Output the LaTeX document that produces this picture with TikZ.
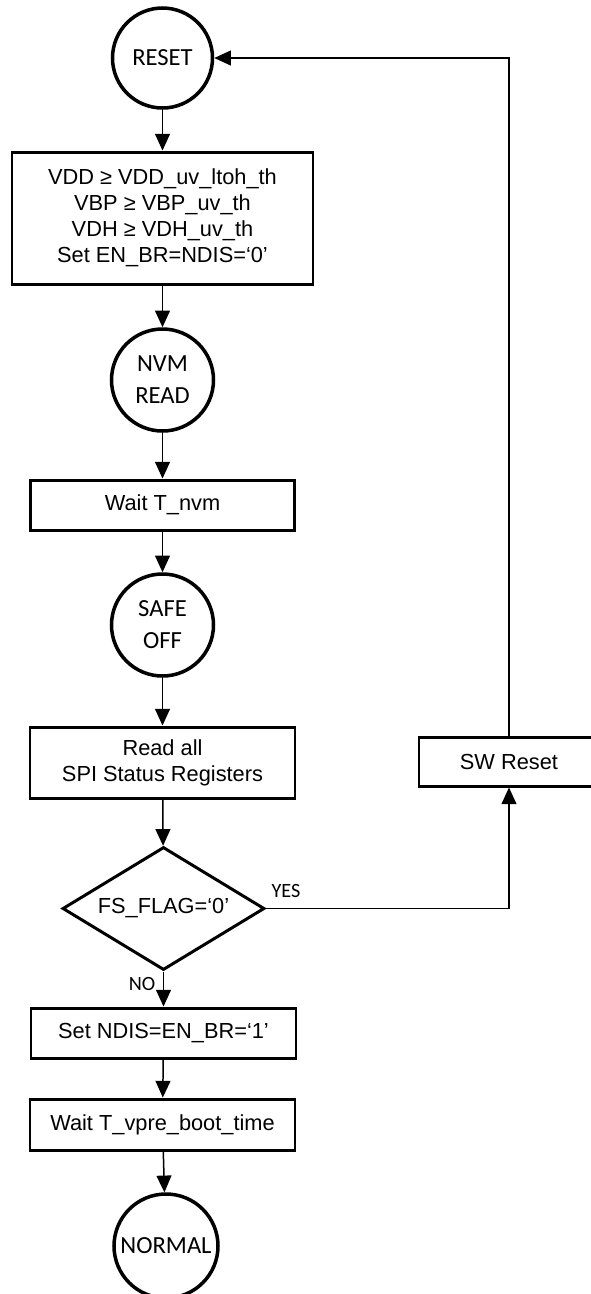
\documentclass[tikz,border=0pt]{standalone}
\usepackage{fontspec}
\setmainfont{Liberation Sans}
\newfontfamily\statefont{Carlito}
\usetikzlibrary{arrows.meta, shapes.geometric, positioning}

\tikzset{
  stepbox/.style={draw=black, line width=1.7pt, rectangle, inner sep=0pt,
    minimum width=5.3cm, minimum height=1.0cm, align=center,
    font=\fontsize{12.4}{14.8}\selectfont},
  statecircle/.style={draw=black, line width=2pt, circle, inner sep=0pt,
    minimum size=2.04cm, align=center,
    font=\statefont\fontsize{14}{18.2}\selectfont},
  decision/.style={draw=black, line width=1.7pt, diamond, aspect=1.64, inner sep=0pt,
    minimum width=4.04cm, minimum height=2.46cm,
    font=\fontsize{12.4}{14.8}\selectfont},
  flowlabel/.style={inner sep=0pt, font=\statefont\fontsize{11.5}{13}\selectfont},
  flowarrow/.style={draw=black, line width=0.85pt, -{Triangle[length=9.5pt,width=8.5pt]}},
}

\begin{document}
\begin{tikzpicture}
  \useasboundingbox (0,0) rectangle (11.8,-25.88);

  % states and steps of the start-up sequence
  \node[statecircle, minimum size=2.0cm] (Reset) at (3.25,-1.16) {RESET};
  \node[stepbox, minimum width=6.02cm, minimum height=2.64cm] (SupplyCheck) at (3.25,-4.36)
    {VDD ≥ VDD\_uv\_ltoh\_th\\VBP ≥ VBP\_uv\_th\\VDH ≥ VDH\_uv\_th\\Set EN\_BR=NDIS=‘0’};
  \node[statecircle] (NvmRead) at (3.25,-7.6) {NVM\\READ};
  \node[stepbox, minimum width=5.28cm] (WaitNvm) at (3.25,-10.1) {Wait T\_nvm};
  \node[statecircle] (SafeOff) at (3.25,-12.5) {SAFE\\OFF};
  \node[stepbox, minimum height=1.42cm] (ReadStatus) at (3.25,-15.25) {Read all\\SPI Status Registers};
  \node[decision] (FsFlag) at (3.27,-18.17) {FS\_FLAG=‘0’};
  \node[stepbox, minimum width=3.6cm, minimum height=0.98cm] (SwReset) at (10.18,-15.23) {SW Reset};
  \node[stepbox] (SetNdis) at (3.27,-20.66) {Set NDIS=EN\_BR=‘1’};
  \node[stepbox, minimum height=1.02cm] (WaitVpre) at (3.25,-22.49) {Wait T\_vpre\_boot\_time};
  \node[statecircle, minimum size=2.08cm] (Normal) at (3.32,-24.92) {NORMAL};

  % branch labels
  \node[flowlabel] (YesLabel) at (5.72,-17.82) {YES};
  \node[flowlabel] (NoLabel) at (2.84,-19.68) {NO};

  % connectors
  \draw[flowarrow] (Reset) -- (SupplyCheck);
  \draw[flowarrow] (SupplyCheck) -- (NvmRead);
  \draw[flowarrow] (NvmRead) -- (WaitNvm);
  \draw[flowarrow] (WaitNvm) -- (SafeOff);
  \draw[flowarrow] (SafeOff) -- (ReadStatus);
  \draw[flowarrow] (ReadStatus) -- (FsFlag);
  \draw[flowarrow] (FsFlag) -- (SetNdis);
  \draw[flowarrow] (SetNdis) -- (WaitVpre);
  \draw[flowarrow] (WaitVpre) -- (Normal);
  \draw[flowarrow] (FsFlag.east) -| (SwReset.south);
  \draw[flowarrow] (SwReset.north) |- (Reset.east);
\end{tikzpicture}
\end{document}
